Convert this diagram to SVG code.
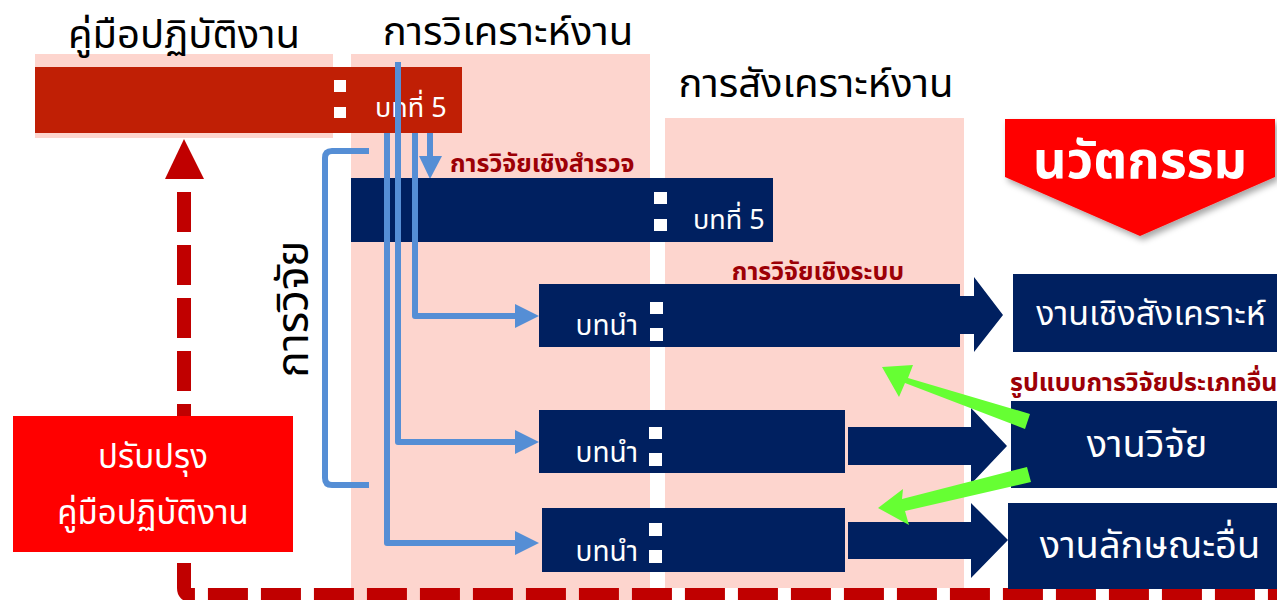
<svg xmlns="http://www.w3.org/2000/svg" width="1277" height="600" viewBox="0 0 1277 600">
<style>
.pink{fill:#FDD5CE}
.navy{fill:#002060}
.wsq{fill:#FFFFFF}
.t{font-family:"Noto Sans Thai","Noto Sans","DejaVu Sans",sans-serif}
.title{font-size:40px;fill:#000000;text-anchor:middle}
.lbl{font-size:25px;fill:#9C0006;font-weight:bold}
.wt{fill:#FFFFFF}
.blue{fill:none;stroke:#558ED5;stroke-width:6;stroke-linejoin:round;stroke-linecap:butt}
.bhead{fill:#558ED5}
.green{fill:#66FF33}
</style>
<defs>
<filter id="sh" x="-10%" y="-10%" width="130%" height="130%">
<feDropShadow dx="3" dy="4" stdDeviation="3" flood-color="#000" flood-opacity="0.35"/>
</filter>
</defs>
<rect width="1277" height="600" fill="#FFFFFF"/>
<g id="backgrounds">
<rect class="pink" x="35" y="54" width="298" height="84"/>
<rect class="pink" x="351" y="54" width="299" height="546"/>
<rect class="pink" x="665" y="118" width="299" height="470"/>
</g>
<g id="titles">
<text class="t title" x="184" y="48">คู่มือปฏิบัติงาน</text>
<text class="t title" x="508" y="45">การวิเคราะห์งาน</text>
<text class="t title" x="816" y="97">การสังเคราะห์งาน</text>
</g>
<g id="connectors">
<path d="M184,192 V588 Q184,595 191,595 H1277" fill="none" stroke="#C00000" stroke-width="14" stroke-dasharray="40 13"/>
<polygon points="184,139 165,179 204,179" fill="#C00000"/>
<path class="blue" d="M369,151 H332 Q325,151 325,158 V478 Q325,485 332,485 H369" stroke-width="7"/>
<path class="blue" d="M430,133 V160"/>
<polygon class="bhead" points="419,156 442,156 430,179"/>
<path class="blue" d="M415,133 V316 H518"/>
<polygon class="bhead" points="515,304 539,316 515,328"/>
<path class="blue" d="M398,62 V442 H518"/>
<polygon class="bhead" points="515,430 539,442 515,454"/>
<path class="blue" d="M387,133 V543 H518"/>
<polygon class="bhead" points="515,531 539,543 515,555"/>
</g>
<g id="bar-manual">
<rect x="35" y="67" width="427" height="66" fill="#C01F05"/>
<rect class="wsq" x="334" y="80" width="12" height="12"/>
<rect class="wsq" x="334" y="107" width="12" height="11"/>
<text class="t wt" x="375" y="117" font-size="27">บทที่ 5</text>
</g>
<path class="blue" d="M398,62 V133"/>
<g id="bar-survey">
<rect class="navy" x="351" y="178" width="422" height="64"/>
<rect class="wsq" x="654" y="192" width="13" height="12"/>
<rect class="wsq" x="654" y="219" width="13" height="12"/>
<text class="t wt" x="693" y="229" font-size="27">บทที่ 5</text>
</g>
<path class="blue" d="M387,178 V242 M398,178 V242 M415,178 V242"/>
<g id="bar-system">
<rect class="navy" x="539" y="284" width="421" height="63"/>
<polygon class="navy" points="950,296 974,296 974,277 1003,315 974,352 974,334 950,334"/>
<rect class="wsq" x="650" y="302" width="13" height="12"/>
<rect class="wsq" x="650" y="328" width="13" height="13"/>
<text class="t wt" x="638" y="335" font-size="28" text-anchor="end">บทนำ</text>
</g>
<g id="bar-research">
<rect class="navy" x="539" y="410" width="306" height="63"/>
<polygon class="navy" points="848,427 971,427 971,408 1007,446 971,484 971,465 848,465"/>
<rect class="wsq" x="649" y="427" width="13" height="12"/>
<rect class="wsq" x="649" y="453" width="13" height="13"/>
<text class="t wt" x="638" y="462" font-size="28" text-anchor="end">บทนำ</text>
</g>
<g id="bar-other">
<rect class="navy" x="542" y="508" width="303" height="64"/>
<polygon class="navy" points="848,522 971,522 971,503 1008,540 971,578 971,559 848,559"/>
<rect class="wsq" x="649" y="523" width="13" height="13"/>
<rect class="wsq" x="649" y="550" width="13" height="13"/>
<text class="t wt" x="638" y="561" font-size="28" text-anchor="end">บทนำ</text>
</g>
<g id="labels">
<text class="t lbl" x="450" y="172">การวิจัยเชิงสำรวจ</text>
<text class="t lbl" x="818" y="280" text-anchor="middle" font-size="28">การวิจัยเชิงระบบ</text>
<text class="t lbl" x="1010" y="391">รูปแบบการวิจัยประเภทอื่น</text>
<text class="t" x="0" y="0" font-size="44" fill="#000" text-anchor="middle" transform="translate(308,309) rotate(-90)">การวิจัย</text>
</g>
<g id="box-synth">
<rect class="navy" x="1013" y="274" width="264" height="78"/>
<text class="t wt" x="1151" y="325" font-size="34" text-anchor="middle">งานเชิงสังเคราะห์</text>
</g>
<g id="box-research">
<rect class="navy" x="1011" y="401" width="266" height="87"/>
<text class="t wt" x="1147" y="457" font-size="38" text-anchor="middle">งานวิจัย</text>
</g>
<g id="box-other">
<rect class="navy" x="1008" y="503" width="269" height="86"/>
<text class="t wt" x="1150" y="558" font-size="38" text-anchor="middle">งานลักษณะอื่น</text>
</g>
<g id="green-arrows">
<polygon class="green" points="1030,414 1025,429 905,383 899,397 882,367 913,365 908,378"/>
<polygon class="green" points="1027,467 1031,482 905,511 909,525 878,508 903,489 902,499"/>
</g>
<g id="innovation">
<polygon points="1005,119 1275,119 1275,177 1140,236 1005,177" fill="#FF0000" filter="url(#sh)"/>
<text class="t wt" x="1140" y="178" font-size="52" font-weight="bold" text-anchor="middle">นวัตกรรม</text>
</g>
<g id="box-improve">
<rect x="13" y="416" width="280" height="136" fill="#FF0000"/>
<text class="t wt" x="153" y="468" font-size="33" text-anchor="middle">ปรับปรุง</text>
<text class="t wt" x="153" y="524" font-size="33" text-anchor="middle">คู่มือปฏิบัติงาน</text>
</g>
</svg>
